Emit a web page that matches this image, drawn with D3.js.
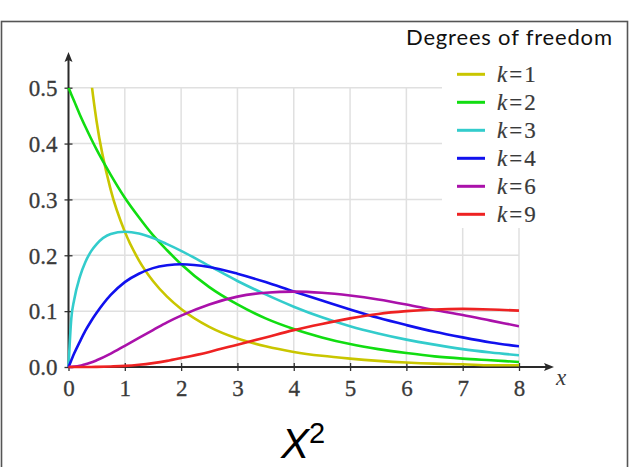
<!DOCTYPE html>
<html>
<head>
<meta charset="utf-8">
<script src="https://cdn.jsdelivr.net/npm/d3@7"></script>
<style>
  body { margin: 0; background: #fff; }
  svg { display: block; }
</style>
</head>
<body>
<div id="chart"></div>
<script>
'use strict';

const xs = [0, 0.05, 0.1, 0.2, 0.3, 0.4, 0.5, 0.75, 1, 1.25, 1.5, 1.75, 2,
    2.5, 3, 3.5, 4, 4.5, 5, 5.5, 6, 6.5, 7, 7.5, 8];

const k1 = [null, null, null, null, 0.627, 0.516, 0.439, 0.317, 0.242, 0.191, 0.154, 0.126, 0.104,
    0.072, 0.051, 0.037, 0.027, 0.020, 0.015, 0.011, 0.008, 0.006, 0.005, 0.003, 0.003];
const k2 = [0.5, 0.488, 0.476, 0.452, 0.430, 0.409, 0.389, 0.344, 0.303, 0.268, 0.236, 0.209, 0.184,
    0.143, 0.112, 0.087, 0.068, 0.053, 0.041, 0.032, 0.025, 0.019, 0.015, 0.012, 0.009];
const k3 = [0, 0.087, 0.120, 0.161, 0.188, 0.207, 0.220, 0.238, 0.242, 0.239, 0.231, 0.220, 0.208,
    0.181, 0.154, 0.130, 0.108, 0.089, 0.073, 0.060, 0.049, 0.040, 0.032, 0.026, 0.021];
const k4 = [0, 0.012, 0.024, 0.045, 0.065, 0.082, 0.097, 0.129, 0.152, 0.167, 0.177, 0.182, 0.184,
    0.179, 0.167, 0.152, 0.135, 0.119, 0.103, 0.088, 0.075, 0.063, 0.053, 0.044, 0.037];
const k6 = [0, 0.0002, 0.0006, 0.002, 0.005, 0.008, 0.012, 0.024, 0.038, 0.052, 0.066, 0.080, 0.092,
    0.112, 0.126, 0.133, 0.135, 0.133, 0.128, 0.121, 0.112, 0.102, 0.093, 0.083, 0.073];
const k9 = [0, 0, 0, 0, 0, 0.0001, 0.0003, 0.001, 0.002, 0.004, 0.007, 0.011, 0.016,
    0.027, 0.040, 0.053, 0.066, 0.077, 0.087, 0.095, 0.100, 0.103, 0.104, 0.103, 0.101];

const seriesNames = ["k=1", "k=2", "k=3", "k=4", "k=6", "k=9"];
const seriesValues = [k1, k2, k3, k4, k6, k9];
const seriesColors = ["#c9c600", "#11dd11", "#33cccc", "#1111ee", "#aa11aa", "#ee2222"];

const xTicks = [0, 1, 2, 3, 4, 5, 6, 7, 8];
const yTicks = [0, 0.1, 0.2, 0.3, 0.4, 0.5];

class ChiSquareChart {

    constructor(args) {
        this.element = document.querySelector(args.selector || "#chart");
        this.width = 636;
        this.height = 467;
        this.x = d3.scaleLinear().domain([0, 8]).range([68.5, 519]);
        this.y = d3.scaleLinear().domain([0, 0.5]).range([367, 87.7]);
    }

    draw() {
        this.element.innerHTML = '';
        this.svg = d3.select(this.element).append('svg')
            .attr('width', this.width)
            .attr('height', this.height);

        // outer frame, its bottom edge falls off the picture
        this.svg.append('rect')
            .attr('x', 1.5).attr('y', 21.5)
            .attr('width', 626).attr('height', 470)
            .attr('fill', 'none')
            .attr('stroke', '#555')
            .attr('stroke-width', 1.6);

        this.createGrid();
        this.createLegend();
        this.createAxes();
        this.createLines();
        this.createLabels();
    }

    createGrid() {
        const x = this.x, y = this.y;
        const g = this.svg.append('g').attr('stroke', '#e0e0e0').attr('stroke-width', 1.5);
        g.selectAll('.vgrid')
            .data(xTicks.slice(1))
            .enter().append('line')
            .attr('x1', d => x(d)).attr('x2', d => x(d))
            .attr('y1', y(0)).attr('y2', y(0.5));
        g.selectAll('.hgrid')
            .data(yTicks.slice(1))
            .enter().append('line')
            .attr('x1', x(0)).attr('x2', x(8))
            .attr('y1', d => y(d)).attr('y2', d => y(d));
    }

    createAxes() {
        const x = this.x, y = this.y;

        const xAxis = this.svg.append('g')
            .attr('transform', `translate(0,${y(0)})`)
            .call(d3.axisBottom(x).tickValues(xTicks).tickFormat(d3.format('d')).tickSize(4).tickSizeOuter(0));
        const yAxis = this.svg.append('g')
            .attr('transform', `translate(${x(0)},0)`)
            .call(d3.axisLeft(y).tickValues(yTicks).tickFormat(d3.format('.1f')).tickSize(4).tickSizeOuter(0));

        [xAxis, yAxis].forEach(a => {
            a.select('.domain').remove();
            a.selectAll('.tick line').attr('stroke', '#333').attr('stroke-width', 1.3);
            a.selectAll('.tick text')
                .attr('font-family', '"Liberation Serif", serif')
                .attr('font-size', 23)
                .attr('fill', '#3a3a3a')
                .attr('stroke', '#3a3a3a')
                .attr('stroke-width', 0.3);
        });
        xAxis.selectAll('.tick line').attr('y1', -4).attr('y2', 4);
        xAxis.selectAll('.tick text').attr('y', 13).attr('dy', '0.71em');
        yAxis.selectAll('.tick line').attr('x1', -4).attr('x2', 4);
        yAxis.selectAll('.tick text').attr('x', -11).attr('dy', '0.34em');

        // axis lines with arrow heads
        const axisColor = '#2a2a2a';
        this.svg.append('line')
            .attr('x1', x(0)).attr('x2', 548)
            .attr('y1', y(0)).attr('y2', y(0))
            .attr('stroke', axisColor).attr('stroke-width', 2);
        this.svg.append('path')
            .attr('d', `M554,${y(0)} L544,${y(0) - 4} L546,${y(0)} L544,${y(0) + 4} Z`)
            .attr('fill', axisColor);
        this.svg.append('line')
            .attr('x1', x(0)).attr('x2', x(0))
            .attr('y1', y(0) + 1).attr('y2', 58)
            .attr('stroke', axisColor).attr('stroke-width', 2);
        this.svg.append('path')
            .attr('d', `M${x(0)},52 L${x(0) - 4},62 L${x(0)},60 L${x(0) + 4},62 Z`)
            .attr('fill', axisColor);

        this.svg.append('text')
            .attr('x', 556).attr('y', 385)
            .attr('font-family', '"Liberation Serif", serif')
            .attr('font-style', 'italic')
            .attr('font-size', 23)
            .attr('fill', '#3a3a3a')
            .text('x');
    }

    createLines() {
        const x = this.x, y = this.y;

        this.svg.append('clipPath').attr('id', 'plot-clip')
            .append('rect')
            .attr('x', x(0) - 2).attr('y', y(0.5))
            .attr('width', x(8) - x(0) + 2).attr('height', y(0) - y(0.5) + 4);

        const line = d3.line()
            .defined(d => d[1] !== null)
            .x(d => x(d[0]))
            .y(d => y(d[1]))
            .curve(d3.curveMonotoneX);

        this.svg.append('g')
            .attr('clip-path', 'url(#plot-clip)')
            .selectAll('.curve')
            .data(seriesValues)
            .enter().append('path')
            .attr('class', 'curve')
            .attr('d', vals => line(xs.map((v, i) => [v, vals[i]])))
            .attr('fill', 'none')
            .attr('stroke', (d, i) => seriesColors[i])
            .attr('stroke-width', 2.6)
            .attr('stroke-linecap', 'butt');
    }

    createLegend() {
        // white patch behind the legend hides the grid there
        this.svg.append('rect')
            .attr('x', 442).attr('y', 23)
            .attr('width', 184).attr('height', 205)
            .attr('fill', '#fff');

        this.svg.append('text')
            .attr('x', 406).attr('y', 45)
            .attr('font-family', 'Lato, "Open Sans", sans-serif')
            .attr('font-size', 22)
            .attr('fill', '#111')
            .attr('textLength', 206)
            .attr('lengthAdjust', 'spacing')
            .text('Degrees  of freedom');

        const item = this.svg.selectAll('.legend-item')
            .data(seriesNames)
            .enter().append('g')
            .attr('class', 'legend-item')
            .attr('transform', (d, i) => `translate(457,${74.3 + i * 28})`);
        item.append('line')
            .attr('x1', 0).attr('x2', 28)
            .attr('stroke', (d, i) => seriesColors[i])
            .attr('stroke-width', 3);
        const label = item.append('text')
            .attr('x', 40).attr('dy', '0.35em')
            .attr('font-family', '"Liberation Serif", serif')
            .attr('font-size', 23)
            .attr('fill', '#3a3a3a')
            .attr('stroke', '#3a3a3a')
            .attr('stroke-width', 0.2);
        label.append('tspan').attr('font-style', 'italic').text(d => d.split('=')[0]);
        label.append('tspan').attr('dx', 2).text('=');
        label.append('tspan').attr('dx', 2).text(d => d.split('=')[1]);
    }

    createLabels() {
        const t = this.svg.append('text')
            .attr('x', 281).attr('y', 458)
            .attr('font-family', '"Liberation Sans", Arial, sans-serif')
            .attr('fill', '#000');
        t.append('tspan').attr('font-size', 42).attr('font-style', 'italic').text('X');
        t.append('tspan').attr('font-size', 29).attr('dy', -15).attr('dx', 0).text('2');
    }

}

const chart = new ChiSquareChart({selector: "#chart"});
chart.draw();
</script>
</body>
</html>
